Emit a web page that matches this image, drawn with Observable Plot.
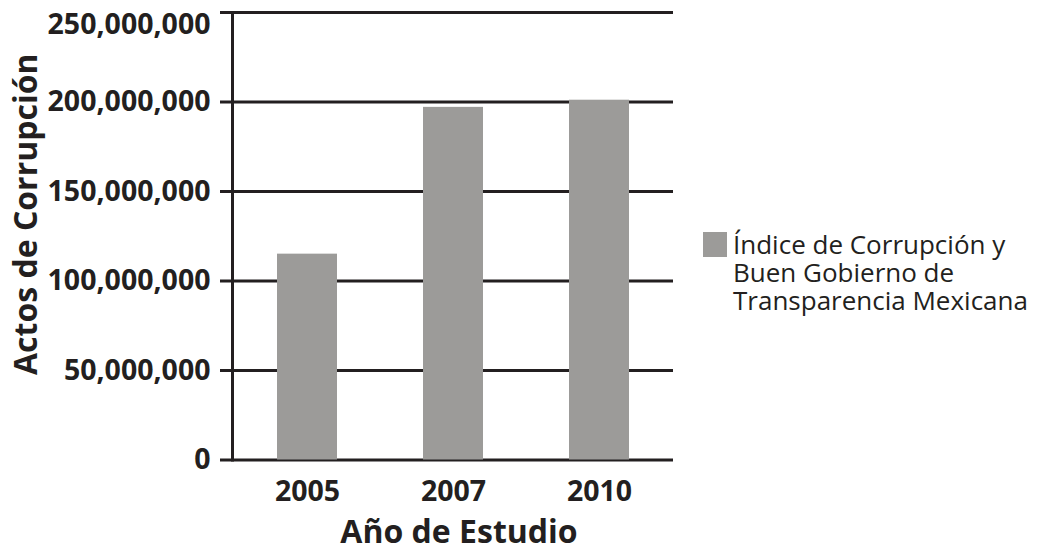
<!DOCTYPE html>
<html>
<head>
<meta charset="utf-8">
<script src="https://cdn.jsdelivr.net/npm/d3@7"></script>
<script src="https://cdn.jsdelivr.net/npm/@observablehq/plot@0.6"></script>
<style>
  html, body { margin: 0; padding: 0; background: #fff; }
  #wrap { position: relative; width: 1040px; height: 547px; font-family: "Open Sans", sans-serif; color: #231f20; }
  #chart { position: absolute; left: 0; top: 0; }
  #chart svg { overflow: visible; }
  #legend { position: absolute; left: 703px; top: 230px; display: flex; align-items: flex-start; }
  #legend .sw { width: 24px; height: 25px; background: #9c9b99; margin-top: 2px; margin-right: 6px; flex: none; }
  #legend .tx { font-size: 26px; line-height: 28px; white-space: nowrap; }
  #chart svg text { fill: #231f20; }
</style>
</head>
<body>
<div id="wrap">
  <div id="chart"></div>
  <div id="legend"><div class="sw"></div><div class="tx" id="legendText"></div></div>
</div>
<script>
const years = ["2005", "2007", "2010"];
const values = [115000000, 197000000, 201000000];
const yTicks = [0, 50000000, 100000000, 150000000, 200000000, 250000000];
const seriesName = ["Índice de Corrupción y", "Buen Gobierno de", "Transparencia Mexicana"];
const xTitle = "Año de Estudio";
const yTitle = "Actos de Corrupción";

const data = years.map((y, i) => ({year: y, value: values[i]}));
const ink = "#231f20";
const fmt = d3.format(",");
const topTick = yTicks[yTicks.length - 1];
const lowTicks = yTicks.slice(0, -1);

const chart = Plot.plot({
  width: 700,
  height: 547,
  marginLeft: 232,
  marginRight: 27,
  marginTop: 12,
  marginBottom: 87.5,
  style: {fontFamily: "'Open Sans', sans-serif", background: "white", color: ink, overflow: "visible"},
  x: {type: "band", domain: years, paddingInner: 0.59, paddingOuter: 0.3},
  y: {domain: [0, topTick]},
  marks: [
    Plot.ruleY(yTicks, {stroke: ink, strokeWidth: 3, insetLeft: -12}),
    Plot.barY(data, {x: "year", y: "value", fill: "#9c9b99"}),
    Plot.frame({anchor: "left", stroke: ink, strokeWidth: 3}),
    Plot.axisY(lowTicks, {tickSize: 0, tickPadding: 22, tickFormat: fmt,
      fontSize: 28.5, fontWeight: 700, label: null}),
    Plot.axisY([topTick], {tickSize: 0, tickPadding: 22, tickFormat: fmt, dy: 12,
      fontSize: 28.5, fontWeight: 700, label: null}),
    Plot.axisX({tickSize: 0, tickPadding: 21, fontSize: 28.5, fontWeight: 700, label: null}),
    Plot.text([xTitle], {frameAnchor: "bottom", dx: 6, dy: 72.5, lineAnchor: "middle", textAnchor: "middle",
      fontSize: 32, fontWeight: 700, fill: ink}),
    Plot.text([yTitle], {frameAnchor: "left", dx: -206, dy: -22, rotate: -90, lineAnchor: "middle", textAnchor: "middle",
      fontSize: 32, fontWeight: 700, fill: ink})
  ]
});
document.getElementById("chart").appendChild(chart);
document.getElementById("legendText").innerHTML = seriesName.join("<br>");
</script>
</body>
</html>
